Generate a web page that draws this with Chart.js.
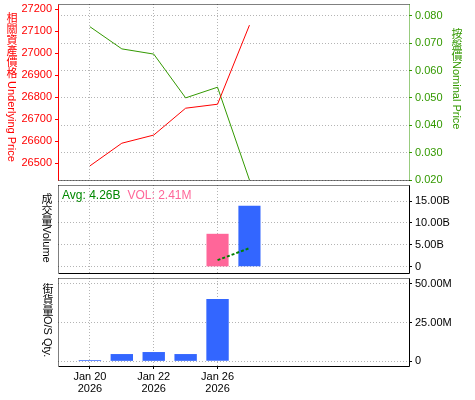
<!DOCTYPE html>
<html>
<head>
<meta charset="utf-8">
<script src="https://cdn.jsdelivr.net/npm/chart.js@4"></script>
<style>
  body { margin: 0; background: #fff; }
  #wrap { position: relative; width: 475px; height: 400px; overflow: hidden; }
  canvas { position: absolute; left: 0; }
  .tt {
    position: absolute;
    width: 12px;
    display: flex;
    flex-direction: column;
    align-items: center;
    font-size: 11px;
  }
  .tt .c {
    font-family: "Noto Sans CJK TC", sans-serif;
    line-height: 11px;
    height: 11px;
  }
  .tt .l {
    font-family: "Liberation Sans", Arial, sans-serif;
    writing-mode: vertical-rl;
    line-height: 12px;
    white-space: pre;
  }
</style>
</head>
<body>
<div id="wrap">
  <canvas id="price" width="475" height="183" style="top:0"></canvas>
  <canvas id="vol" width="475" height="93" style="top:183px"></canvas>
  <canvas id="os" width="475" height="124" style="top:276px"></canvas>
  <div class="tt" style="left:6px;top:12px;color:#ff0000" data-cjk="相關資產價格" data-latin=" Underlying Price"></div>
  <div class="tt" style="left:451px;top:28px;color:#339900" data-cjk="按盤價" data-latin="Nominal Price"></div>
  <div class="tt" style="left:41px;top:193px;color:#000" data-cjk="成交量" data-latin="Volume"></div>
  <div class="tt" style="left:42px;top:283px;color:#000" data-cjk="街貨量" data-latin="O/S Qty."></div>
</div>
<script>
// trading days on the x axis
const dates = ['Jan 20', 'Jan 21', 'Jan 22', 'Jan 23', 'Jan 26', 'Jan 27'];
const year = '2026';

const underlying = [26488, 26591, 26628, 26750, 26768, 27127];
const nominal = [0.0760, 0.0679, 0.0660, 0.0500, 0.0539, 0.0200];

const volume = [null, null, null, null, 7.53e9, 13.93e9];
const volumeColors = ['#3366ff', '#3366ff', '#3366ff', '#3366ff', '#ff6699', '#3366ff'];
const volumeAvg = [null, null, null, null, 1.53e9, 4.26e9];
const lastVol = '2.41M';

const osQty = [0.8e6, 4.7e6, 6.0e6, 4.7e6, 40.2e6, null];

const red = '#ff0000';
const green = '#339900';
const gridColor = '#b4b4b4';

// vertical axis titles: upright CJK chars, then latin text turned clockwise
document.querySelectorAll('.tt').forEach(el => {
    Array.from(el.dataset.cjk).forEach(ch => {
        const s = document.createElement('span');
        s.className = 'c';
        s.textContent = ch;
        el.appendChild(s);
    });
    const l = document.createElement('span');
    l.className = 'l';
    l.textContent = el.dataset.latin;
    el.appendChild(l);
});

Chart.defaults.font.family = '"Liberation Sans", Arial, sans-serif';
Chart.defaults.font.size = 11;
Chart.defaults.color = '#000';

function toPoints(arr) {
    return arr.map((y, x) => ({x: x, y: y})).filter(p => p.y !== null);
}

// ticks every `step` inside the axis range
function stepTicks(step) {
    return s => {
        const out = [];
        for (let k = Math.ceil(s.min / step - 1e-9); k * step <= s.max + step * 1e-9; k++) {
            out.push({value: k * step});
        }
        s.ticks = out;
    };
}

// frame around the plot area, each side with its own colour / dash
const framePlugin = {
    id: 'frame',
    beforeDatasetsDraw(chart, args, opts) {
        const a = chart.chartArea;
        const ctx = chart.ctx;
        const l = Math.floor(a.left) + 0.5, r = Math.floor(a.right) + 0.5;
        const t = Math.floor(a.top) + 0.5, b = Math.floor(a.bottom) + 0.5;
        const sides = {
            top: [l, t, r, t], bottom: [l, b, r, b],
            left: [l, t, l, b], right: [r, t, r, b]
        };
        Object.keys(sides).forEach(k => {
            const s = opts[k];
            const p = sides[k];
            ctx.save();
            ctx.strokeStyle = s.color;
            ctx.lineWidth = 1;
            ctx.setLineDash(s.dash ? [1, 1] : []);
            ctx.beginPath();
            ctx.moveTo(p[0], p[1]);
            ctx.lineTo(p[2], p[3]);
            ctx.stroke();
            ctx.restore();
        });
    }
};

const dotted = {color: '#000', dash: true};
const solid = {color: '#000', dash: false};

function xAxis(showLabels) {
    return {
        type: 'linear',
        min: -1,
        max: 10,
        offset: false,
        afterBuildTicks: s => {
            s.ticks = dates.map((d, i) => i).filter(i => i % 2 === 0).map(v => ({value: v}));
        },
        ticks: {
            display: showLabels,
            padding: 2,
            color: '#000',
            font: {size: 11, lineHeight: 1.1},
            callback: v => [dates[v], year]
        },
        grid: {offset: false, color: gridColor, drawTicks: showLabels, tickLength: 3, tickColor: '#000'},
        border: {display: false, dash: [1, 2]},
        afterFit: s => {
            s.height = showLabels ? 34 : 0;
            s.paddingLeft = 0;
            s.paddingRight = 0;
        }
    };
}

// empty left axis so every panel has the same left edge
function leftSpacer() {
    return {
        position: 'left',
        min: 0,
        max: 1,
        ticks: {display: false},
        grid: {display: false},
        border: {display: false},
        afterFit: s => { s.width = 58; s.paddingTop = 0; s.paddingBottom = 0; }
    };
}

function rightAxis(min, max, step, fmt, color) {
    return {
        position: 'right',
        min: min,
        max: max,
        afterBuildTicks: stepTicks(step),
        ticks: {color: color, padding: 3, callback: fmt},
        grid: {color: gridColor, tickColor: color, tickLength: 3},
        border: {display: false, dash: [1, 2]},
        afterFit: s => { s.width = 66; s.paddingTop = 0; s.paddingBottom = 0; }
    };
}

function fmtUnit(div, unit) {
    return v => Math.abs(v) < 1e-9 ? '0' : (v / div).toFixed(2) + unit;
}

const common = {
    responsive: false,
    animation: false,
    events: []
};

// price panel
new Chart(document.getElementById('price'), {
    type: 'line',
    data: {
        datasets: [{
            data: toPoints(underlying),
            yAxisID: 'yL',
            borderColor: red,
            borderWidth: 1,
            pointRadius: 0,
            tension: 0
        }, {
            data: toPoints(nominal),
            yAxisID: 'yR',
            borderColor: green,
            borderWidth: 1,
            pointRadius: 0,
            tension: 0
        }]
    },
    options: Object.assign({}, common, {
        layout: {padding: {top: 4, bottom: 3, left: 0, right: 0}},
        plugins: {
            legend: {display: false},
            tooltip: {enabled: false},
            frame: {
                top: dotted, bottom: dotted,
                left: {color: red, dash: false},
                right: {color: green, dash: true}
            }
        },
        scales: {
            x: xAxis(false),
            yL: {
                position: 'left',
                min: 26424,
                max: 27223,
                afterBuildTicks: stepTicks(100),
                ticks: {color: red, padding: 3, callback: v => String(v)},
                grid: {drawOnChartArea: false, tickColor: red, tickLength: 3},
                border: {display: false},
                afterFit: s => { s.width = 58; s.paddingTop = 0; s.paddingBottom = 0; }
            },
            yR: rightAxis(0.02, 0.0843, 0.01, v => v.toFixed(3), green)
        }
    }),
    plugins: [framePlugin]
});

// volume panel
const volLabels = {
    id: 'volLabels',
    afterDraw(chart) {
        const ctx = chart.ctx;
        const x0 = chart.chartArea.left + 4;
        const y0 = chart.chartArea.top + 14;
        const avgText = 'Avg: ' + (volumeAvg[volumeAvg.length - 1] / 1e9).toFixed(2) + 'B';
        ctx.save();
        ctx.font = '12px "Liberation Sans", Arial, sans-serif';
        ctx.textBaseline = 'alphabetic';
        ctx.fillStyle = '#008800';
        ctx.fillText(avgText, x0, y0);
        ctx.fillStyle = '#ff6699';
        ctx.fillText('VOL: ' + lastVol, x0 + ctx.measureText(avgText).width + 7, y0);
        ctx.restore();
    }
};

new Chart(document.getElementById('vol'), {
    type: 'bar',
    data: {
        datasets: [{
            type: 'line',
            data: toPoints(volumeAvg),
            yAxisID: 'y',
            borderColor: '#008000',
            borderWidth: 2,
            borderDash: [3, 2],
            pointRadius: 0
        }, {
            data: toPoints(volume),
            yAxisID: 'y',
            backgroundColor: volumeColors.filter((c, i) => volume[i] !== null),
            barPercentage: 0.9,
            categoryPercentage: 0.77
        }]
    },
    options: Object.assign({}, common, {
        layout: {padding: {top: 2, bottom: 3, left: 0, right: 0}},
        plugins: {
            legend: {display: false},
            tooltip: {enabled: false},
            frame: {top: dotted, left: dotted, right: solid, bottom: solid}
        },
        scales: {
            x: xAxis(false),
            yL: leftSpacer(),
            y: rightAxis(-1.4e9, 18.65e9, 5e9, fmtUnit(1e9, 'B'), '#000')
        }
    }),
    plugins: [framePlugin, volLabels]
});

// outstanding quantity panel
new Chart(document.getElementById('os'), {
    type: 'bar',
    data: {
        datasets: [{
            data: toPoints(osQty),
            yAxisID: 'y',
            backgroundColor: '#3366ff',
            barPercentage: 0.9,
            categoryPercentage: 0.78
        }]
    },
    options: Object.assign({}, common, {
        layout: {padding: {top: 2, bottom: 0, left: 0, right: 0}},
        plugins: {
            legend: {display: false},
            tooltip: {enabled: false},
            frame: {top: dotted, left: dotted, right: solid, bottom: solid}
        },
        scales: {
            x: xAxis(true),
            yL: leftSpacer(),
            y: rightAxis(-3.0e6, 53.7e6, 25e6, fmtUnit(1e6, 'M'), '#000')
        }
    }),
    plugins: [framePlugin]
});
</script>
</body>
</html>
